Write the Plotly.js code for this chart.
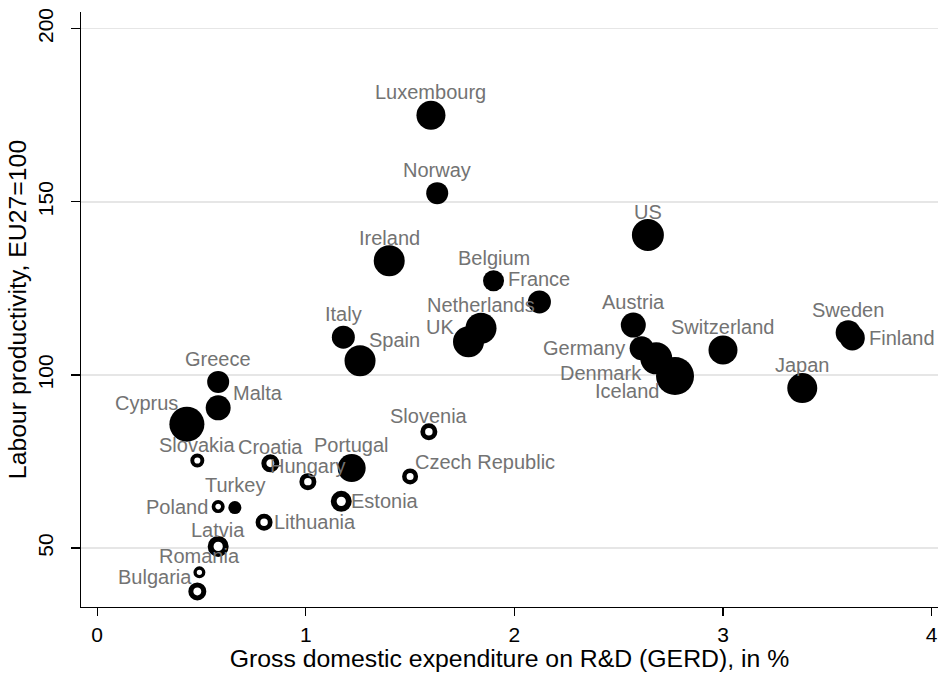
<!DOCTYPE html>
<html>
<head>
<meta charset="utf-8">
<script src="https://cdn.plot.ly/plotly-3.0.1.min.js"></script>
<style>
  html, body { margin: 0; padding: 0; background: #ffffff; }
  #chart { width: 938px; height: 674px; }
</style>
</head>
<body>
<div id="chart"></div>
<script>
// ---- Data ----
const countries = [
  "Luxembourg", "Norway", "US", "Ireland", "Belgium", "France", "Netherlands", "UK",
  "Italy", "Spain", "Austria", "Sweden", "Finland", "Switzerland", "Germany", "Denmark",
  "Iceland", "Japan", "Greece", "Malta", "Cyprus", "Portugal", "Turkey",
  "Slovenia", "Slovakia", "Croatia", "Hungary", "Czech Republic", "Estonia", "Poland",
  "Lithuania", "Latvia", "Romania", "Bulgaria"
];
// Gross domestic expenditure on R&D (GERD), in % of GDP
const gerd = [
  1.60, 1.63, 2.64, 1.40, 1.90, 2.12, 1.84, 1.78,
  1.18, 1.26, 2.57, 3.60, 3.62, 3.00, 2.61, 2.68,
  2.77, 3.38, 0.58, 0.58, 0.43, 1.22, 0.66,
  1.59, 0.48, 0.83, 1.01, 1.50, 1.17, 0.58,
  0.80, 0.58, 0.49, 0.48
];
// Labour productivity, EU27 = 100
const productivity = [
  175.0, 152.5, 140.4, 133.0, 127.2, 121.1, 113.5, 109.6,
  110.9, 104.1, 114.4, 112.2, 110.7, 107.2, 107.7, 104.8,
  99.7, 96.2, 98.0, 90.5, 85.8, 73.1, 61.7,
  83.6, 75.3, 74.5, 69.2, 70.7, 63.5, 62.0,
  57.5, 50.5, 43.0, 37.5
];
// Bubble weight (third variable, shown as marker size)
const weight = [
  29, 22, 32, 31, 21, 23, 31, 31,
  23, 31, 25, 25, 25, 29, 24, 32,
  38, 30, 22, 25, 35, 28, 13,
  17, 14, 18, 17, 16, 21, 13,
  17, 21, 12, 18
];
// Group: true = drawn as hollow circle (central & eastern European members)
const hollowGroup = [
  false, false, false, false, false, false, false, false,
  false, false, false, false, false, false, false, false,
  false, false, false, false, false, false, false,
  true, true, true, true, true, true, true,
  true, true, true, true
];

// ---- Style config: label clock positions (Stata-like mlabposition) ----
const labelClock = {
  "UK": 10, "Spain": 1, "Finland": 3, "Germany": 9, "Denmark": 8, "Iceland": 8,
  "Malta": 2, "Cyprus": 11, "Czech Republic": 1, "Estonia": 3, "Poland": 9,
  "Lithuania": 3, "Bulgaria": 11
};

const FONT = "Liberation Sans, Arial, Helvetica, sans-serif";
const RING_FRAC = 0.28;

const markerLineW = weight.map((w, i) => hollowGroup[i] ? w * RING_FRAC : 0);
const markerSizes = weight.map((w, i) => hollowGroup[i] ? w - markerLineW[i] : w);
const markerColors = hollowGroup.map(h => h ? "#ffffff" : "#000000");

const trace = {
  type: "scatter",
  mode: "markers",
  x: gerd,
  y: productivity,
  text: countries,
  hoverinfo: "text",
  marker: {
    symbol: "circle",
    size: markerSizes,
    sizemode: "diameter",
    color: markerColors,
    line: { color: "#000000", width: markerLineW },
    opacity: 1
  },
  cliponaxis: false,
  showlegend: false
};

const annotations = countries.map((name, i) => {
  const p = labelClock[name] || 12;
  const g = hollowGroup[i] ? 10 : 17;
  const th = (90 - 30 * p) * Math.PI / 180;
  let xs = g * Math.cos(th);
  let ys = g * Math.sin(th);
  const s = Math.sin(th);
  if (Math.abs(s) > 0.2) ys += 6 * Math.sign(s);
  let xa = "center";
  if (p >= 1 && p <= 5) xa = "left";
  else if (p >= 7 && p <= 11) xa = "right";
  return {
    x: gerd[i], y: productivity[i], xref: "x", yref: "y",
    text: name, showarrow: false,
    xanchor: xa, yanchor: "middle",
    xshift: xs, yshift: ys,
    borderpad: 0, borderwidth: 0,
    font: { family: FONT, size: 20, color: "#737373" }
  };
});

const layout = {
  width: 938,
  height: 674,
  margin: { l: 81, r: 0, t: 12, b: 67, pad: 0 },
  paper_bgcolor: "#ffffff",
  plot_bgcolor: "#ffffff",
  font: { family: FONT, color: "#000000" },
  showlegend: false,
  xaxis: {
    range: [-0.0776, 4.0307],
    tickvals: [0, 1, 2, 3, 4],
    ticktext: ["0", "1", "2", "3", "4"],
    ticks: "outside",
    ticklen: 8,
    tickwidth: 1.3,
    tickcolor: "#000000",
    showline: true,
    linecolor: "#000000",
    linewidth: 1.3,
    showgrid: false,
    zeroline: false,
    tickfont: { family: FONT, size: 21, color: "#000000" },
    title: {
      text: "Gross domestic expenditure on R&D (GERD), in %",
      font: { family: FONT, size: 24.8, color: "#000000" },
      standoff: 5
    }
  },
  yaxis: {
    range: [33.0, 204.8],
    tickvals: [50, 100, 150, 200],
    ticktext: ["50", "100", "150", "200"],
    ticks: "outside",
    ticklen: 9,
    tickwidth: 1.3,
    tickcolor: "#000000",
    tickangle: -90,
    ticklabelstandoff: 9,
    showline: true,
    linecolor: "#000000",
    linewidth: 1.3,
    showgrid: true,
    gridcolor: "#e6e6e6",
    gridwidth: 1.5,
    zeroline: false,
    tickfont: { family: FONT, size: 21, color: "#000000" },
    title: {
      text: "Labour productivity, EU27=100",
      font: { family: FONT, size: 24.8, color: "#000000" },
      standoff: 0
    }
  },
  annotations: annotations
};

Plotly.newPlot("chart", [trace], layout, { displayModeBar: false, staticPlot: true });
</script>
</body>
</html>
